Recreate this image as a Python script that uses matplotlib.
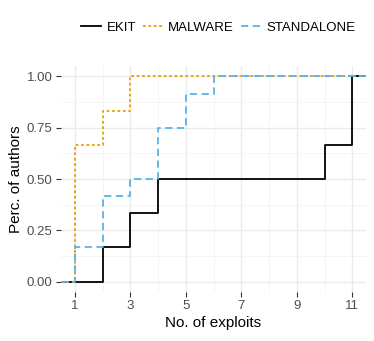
import numpy as np
import matplotlib
matplotlib.use("Agg")
import matplotlib.pyplot as plt
from matplotlib.lines import Line2D

plt.rcParams['font.family'] = ['Liberation Sans', 'DejaVu Sans']

# Number of exploits per author, by group
ekit = [2, 3, 4, 10, 11, 11]
malware = [1, 1, 1, 1, 2, 3]
standalone = [1, 1, 2, 2, 2, 3, 4, 4, 4, 5, 5, 6]

groups = ["EKIT", "MALWARE", "STANDALONE"]
colors = ["#000000", "#E69F00", "#56B4E9"]
styles = ["-", (0, (1.5, 1.5)), (0, (4, 2.5))]
data = [ekit, malware, standalone]

xticks = [1, 3, 5, 7, 9, 11]
yticks = [0.0, 0.25, 0.5, 0.75, 1.0]
ytick_labels = ["0.00", "0.25", "0.50", "0.75", "1.00"]

fig = plt.figure(figsize=(3.74, 3.41), dpi=100)
ax = fig.add_axes([0.163, 0.144, 0.816, 0.662])

xmin, xmax = 0.5, 11.5
for vals, c, ls, name in zip(data, colors, styles, groups):
    v = np.sort(np.array(vals))
    ux = np.unique(v)
    ys = np.array([np.mean(v <= u) for u in ux])
    xs = np.concatenate([[xmin], ux, [xmax]])
    yy = np.concatenate([[0.0], ys, [ys[-1]]])
    ax.step(xs, yy, where='post', color=c, linestyle=ls, linewidth=1.3, label=name, zorder=3)

ax.set_xlim(xmin, xmax)
ax.set_ylim(-0.05, 1.05)
ax.set_xticks(xticks)
ax.set_xticks([2, 4, 6, 8, 10], minor=True)
ax.set_yticks(yticks)
ax.set_yticklabels(ytick_labels)
ax.set_yticks([0.125, 0.375, 0.625, 0.875], minor=True)
ax.grid(True, which='major', color='#EBEBEB', linewidth=1.0, zorder=0)
ax.grid(True, which='minor', color='#F3F3F3', linewidth=0.6, zorder=0)
for s in ax.spines.values():
    s.set_visible(False)
ax.tick_params(which='major', length=3.5, width=0.8, color='#333333',
               labelcolor='#4D4D4D', labelsize=9.5, pad=2.5)
ax.tick_params(which='minor', length=0)
ax.set_xlabel("No. of exploits", fontsize=11, labelpad=3)
ax.set_ylabel("Perc. of authors", fontsize=11, labelpad=3)

handles = [Line2D([0], [0], color=c, linestyle=ls, linewidth=1.3) for c, ls in zip(colors, styles)]
fig.legend(handles, groups, loc='center right', bbox_to_anchor=(0.982, 0.918), ncol=3,
           frameon=False, fontsize=9.5, handlelength=1.45, handletextpad=0.45, columnspacing=0.55)

fig.savefig("out.png", dpi=100)
